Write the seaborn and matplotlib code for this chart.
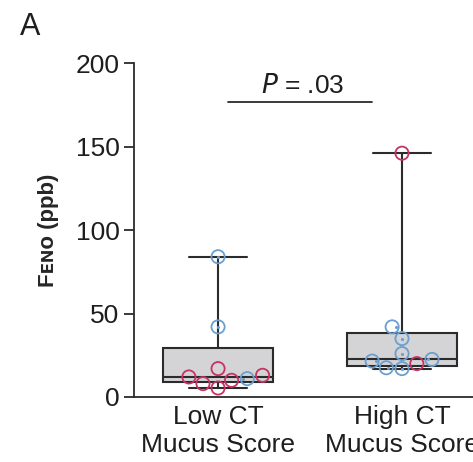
import numpy as np
import pandas as pd
import matplotlib
matplotlib.use('Agg')
import matplotlib.pyplot as plt
import seaborn as sns

# values (FeNO, ppb)
categories = ['Low CT\nMucus Score', 'High CT\nMucus Score']
low_values = [84, 42, 17, 11, 10, 5.4, 8, 12, 13]
low_groups = ['b', 'b', 'r', 'b', 'r', 'r', 'r', 'r', 'r']
high_values = [146, 42, 35, 22.5, 20, 17, 17.5, 21.5, 26]
high_groups = ['r', 'b', 'b', 'b', 'r', 'b', 'b', 'b', 'b']
y_ticks = [0, 50, 100, 150, 200]
p_text = '.03'

blue = '#6a9fcf'
red = '#c83262'

df = pd.DataFrame({
    'score': [categories[0]] * len(low_values) + [categories[1]] * len(high_values),
    'feno': low_values + high_values,
    'group': low_groups + high_groups,
})

sns.set_style('ticks')
plt.rcParams['font.family'] = ['Liberation Sans', 'DejaVu Sans']
plt.rcParams['text.color'] = '#1e1e1e'
plt.rcParams['xtick.labelcolor'] = '#1e1e1e'
plt.rcParams['ytick.labelcolor'] = '#1e1e1e'

fig = plt.figure(figsize=(4.73, 4.62), dpi=100)
ax = fig.add_axes([0.2833, 0.1407, 0.7167, 0.7229])

# box stats with the (n+1) quartile method, whiskers to min / max
stats = []
for cat, vals in zip(categories, [low_values, high_values]):
    v = np.array(vals)
    q1, med, q3 = np.percentile(v, [25, 50, 75], method='weibull')
    stats.append(dict(med=med, q1=q1, q3=q3, whislo=v.min(), whishi=v.max(), fliers=[], label=cat))

ax.bxp(stats, positions=[0, 1], widths=0.6, capwidths=0.32, patch_artist=True, showfliers=False,
       boxprops=dict(facecolor='#d4d4d6', edgecolor='#2b2b2b', linewidth=1.5),
       medianprops=dict(color='#2b2b2b', linewidth=1.5),
       whiskerprops=dict(color='#2b2b2b', linewidth=1.5),
       capprops=dict(color='#2b2b2b', linewidth=1.5), zorder=1)

sns.swarmplot(data=df, x='score', y='feno', hue='group', order=categories,
              palette={'b': blue, 'r': red}, size=9.5, linewidth=0, legend=False, ax=ax, zorder=3)

swarm = [c for c in ax.collections if len(c.get_offsets()) > 0]

ax.set_xlim(-0.457, 1.386)
ax.set_ylim(0, 200)
ax.set_yticks(y_ticks)
ax.set_xticks([0, 1])
ax.set_xticklabels(categories)

# let the swarm settle, then turn into open circles with a dot in the blue ones
fig.canvas.draw()
blue_rgb = np.array(matplotlib.colors.to_rgb(blue))
for c in swarm:
    fc = np.array(c.get_facecolors())
    offs = np.asarray(c.get_offsets())
    c.set_edgecolors(fc)
    c.set_facecolors('none')
    c.set_linewidth(1.3)
    is_blue = np.abs(fc[:, :3] - blue_rgb).sum(axis=1) < 0.1
    pts = offs[is_blue]
    if len(pts):
        ax.scatter(pts[:, 0], pts[:, 1], s=5, color=blue, zorder=4, linewidths=0)

sns.despine(ax=ax)
for side in ['left', 'bottom']:
    ax.spines[side].set_linewidth(1.3)
    ax.spines[side].set_color('#2b2b2b')
ax.tick_params(axis='y', length=7, width=1.3, pad=3.5, labelsize=19, color='#2b2b2b')
ax.tick_params(axis='x', length=0, pad=6, labelsize=19)
ax.set_xlabel('')
ax.set_ylabel('F\u1d07\u0274\u1d0f (ppb)', fontsize=16, fontweight='bold', labelpad=12)

# significance bracket
ax.plot([0.054, 0.837], [176.5, 176.5], color='#2b2b2b', linewidth=1.3, clip_on=False)
ax.text(0.46, 179, r'$\it{P}$ = ' + p_text, ha='center', va='bottom', fontsize=19)

fig.text(0.042, 0.925, 'A', fontsize=22)

fig.savefig('out.png', dpi=100)
